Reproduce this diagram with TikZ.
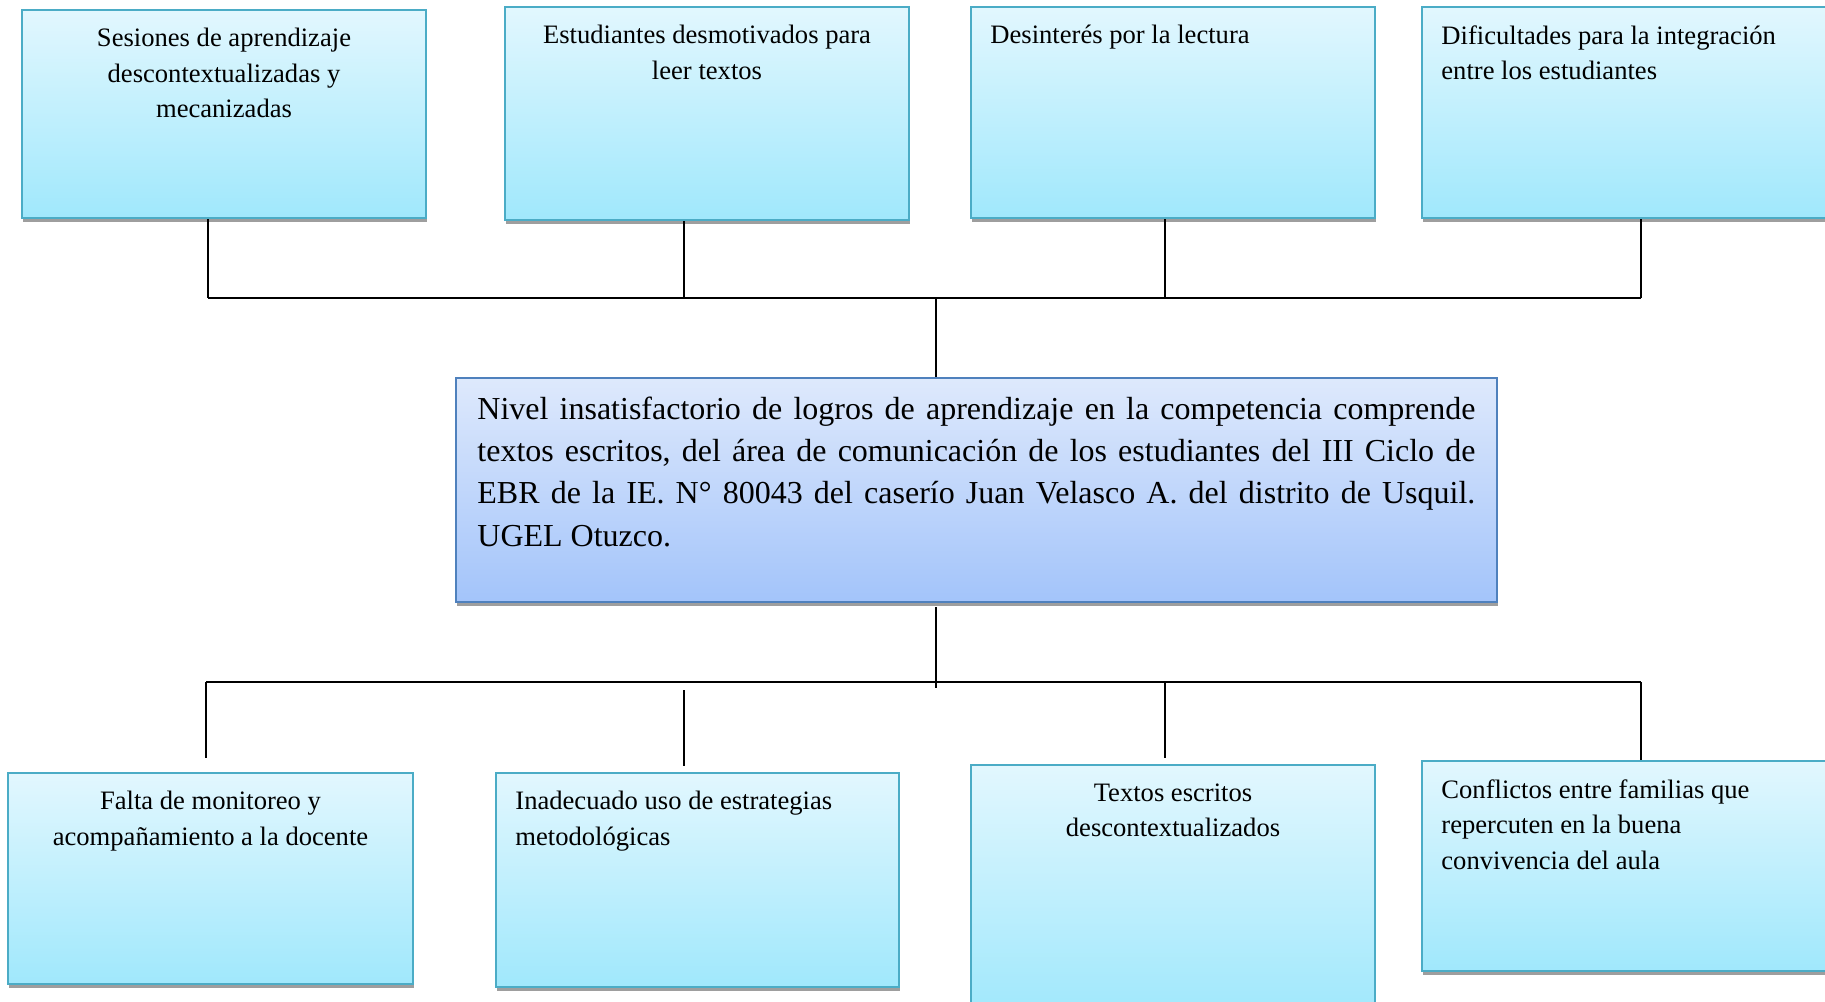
\documentclass[tikz,border=0pt]{standalone}
\usepackage{fontspec}
\setmainfont{Liberation Serif}
\usepackage{color}
\definecolor{leafline}{RGB}{75,172,198}
\definecolor{leaftop}{RGB}{226,247,254}
\definecolor{leafbottom}{RGB}{160,232,252}
\definecolor{coreline}{RGB}{79,129,189}
\definecolor{coretop}{RGB}{222,233,252}
\definecolor{corebottom}{RGB}{163,196,250}
\usepackage{tikz}
\usetikzlibrary{positioning,shadows}
\tikzstyle{leaf}=[draw=leafline,line width=1pt,top color=leaftop,bottom color=leafbottom,drop shadow={shadow xshift=0.5pt,shadow yshift=-2pt,fill=black!38,opacity=1},inner sep=0pt]
\tikzstyle{core}=[draw=coreline,line width=1pt,top color=coretop,bottom color=corebottom,drop shadow={shadow xshift=0.5pt,shadow yshift=-2pt,fill=black!38,opacity=1},inner sep=0pt]
\tikzstyle{txt}=[inner sep=0pt,font=\fontsize{13.3}{17.75}\selectfont]
\tikzstyle{link}=[line width=1pt]

\begin{document}
\frenchspacing
\begin{tikzpicture}[x=0.5pt,y=-0.5pt]
\useasboundingbox (0,0) rectangle (1825,1001);

% efectos
\node [leaf,minimum width=202pt,minimum height=104pt] (e1) at (224,114) {};
\node [leaf,minimum width=202pt,minimum height=106.5pt] (e2) at (707,113.5) {};
\node [leaf,minimum width=202pt,minimum height=105.5pt] (e3) at (1173,112.5) {};
\node [leaf,minimum width=202pt,minimum height=105.5pt] (e4) at (1624,112.5) {};

% problema central
\node [core,minimum width=520.5pt,minimum height=112pt] (prob) at (976.5,490) {};

% causas
\node [leaf,minimum width=202.5pt,minimum height=105.5pt] (c1) at (210.5,878.5) {};
\node [leaf,minimum width=201.5pt,minimum height=107pt] (c2) at (697.5,880) {};
\node [leaf,minimum width=202pt,minimum height=125pt] (c3) at (1173,890) {};
\node [leaf,minimum width=202pt,minimum height=105pt] (c4) at (1624,866) {};

\node [txt,align=center,below=9.5pt of e1.north] (e1t) {Sesiones de aprendizaje\\descontextualizadas y\\mecanizadas};
\node [txt,align=center,below=9.5pt of e2.north] (e2t) {Estudiantes desmotivados para\\leer textos};
\node [txt,align=left,below right=9.5pt and 10pt of e3.north west] (e3t) {Desinterés por la lectura};
\node [txt,align=left,below right=9.5pt and 10pt of e4.north west] (e4t) {Dificultades para la integración\\entre los estudiantes};

\node [txt,font=\fontsize{16}{21.15}\selectfont,text width=499pt,align=justify,below right=9.7pt and 11pt of prob.north west] (probt)
  {Nivel insatisfactorio de logros de aprendizaje en la competencia comprende\linebreak
   textos escritos, del área de comunicación de los estudiantes del III Ciclo de\linebreak
   EBR de la IE. N° 80043 del caserío Juan Velasco A. del distrito de Usquil.\linebreak
   UGEL Otuzco.};

\node [txt,align=center,below=9.5pt of c1.north] (c1t) {Falta de monitoreo y\\acompañamiento a la docente};
\node [txt,align=left,below right=9.5pt and 10pt of c2.north west] (c2t) {Inadecuado uso de estrategias\\metodológicas};
\node [txt,align=center,below=9.5pt of c3.north] (c3t) {Textos escritos\\descontextualizados};
\node [txt,align=left,below right=9.5pt and 10pt of c4.north west] (c4t) {Conflictos entre familias que\\repercuten en la buena\\convivencia del aula};

% conectores de arriba
\coordinate (ua) at (208,298);
\coordinate (ub) at (684,298);
\coordinate (uc) at (1165,298);
\coordinate (ud) at (1641,298);
\coordinate (um) at (936,298);
\foreach \u/\n in {ua/e1,ub/e2,uc/e3,ud/e4}
  \draw [link] (\u |- \n.south) -- (\u);
\draw [link] (ua) -- (ud);
\draw [link] (um) -- (um |- prob.north);

% conectores de abajo
\coordinate (da) at (206,682);
\coordinate (db) at (684,682);
\coordinate (dc) at (1165,682);
\coordinate (dd) at (1641,682);
\coordinate (dm) at (936,682);
\draw [link,shorten <=2pt] (prob.south -| dm) -- ([yshift=-3pt]dm);
\draw [link] (da) -- (dd);
\draw [link,shorten >=7pt] (da) -- (da |- c1.north);
\draw [link,shorten <=4pt,shorten >=3pt] (db) -- (db |- c2.north);
\draw [link,shorten >=3pt] (dc) -- (dc |- c3.north);
\draw [link] (dd) -- (dd |- c4.north);
\end{tikzpicture}
\end{document}
